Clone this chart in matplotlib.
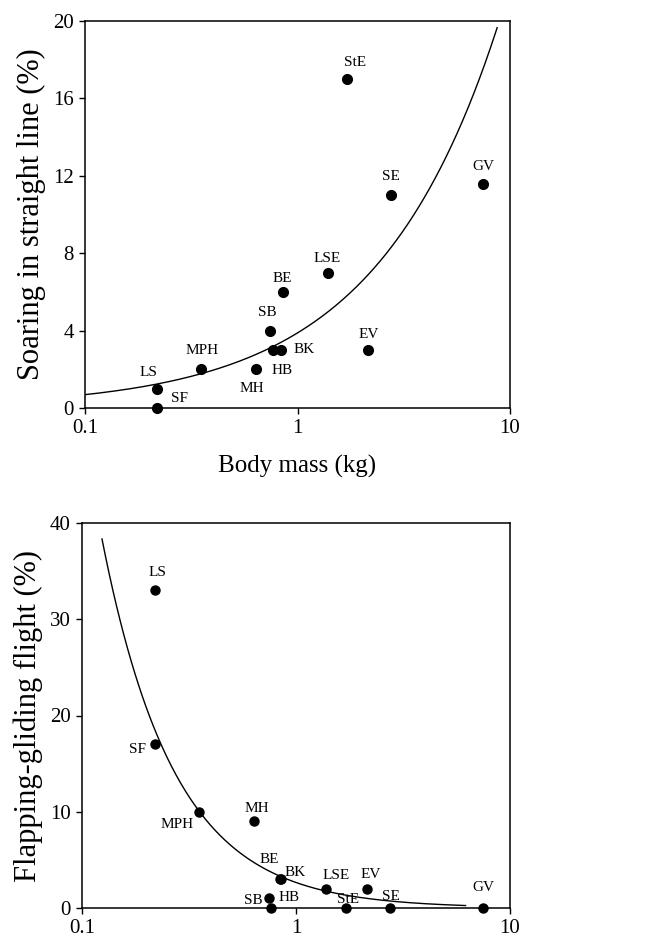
import numpy as np
import matplotlib
matplotlib.use("Agg")
import matplotlib.pyplot as plt

# ---- data ----
species = ["LS", "SF", "MPH", "MH", "SB", "HB", "BK", "BE", "LSE", "StE", "EV", "SE", "GV"]
mass_kg = [0.219, 0.219, 0.351, 0.635, 0.745, 0.766, 0.838, 0.851, 1.387, 1.705, 2.14, 2.75, 7.5]
soaring_pct = [1.0, 0.0, 2.0, 2.0, 4.0, 3.0, 3.0, 6.0, 7.0, 17.0, 3.0, 11.0, 11.6]
flapping_pct = [33.0, 17.0, 10.0, 9.0, 1.0, 0.0, 3.0, 3.0, 2.0, 0.0, 2.0, 0.0, 0.0]

# fitted power-law curves y = a * m^b
soar_fit_a, soar_fit_b = 3.88, 0.75
soar_fit_range = (0.1, 8.7)
flap_fit_a, flap_fit_b = 2.65, -1.28
flap_fit_range = (0.124, 6.2)

top_yticks = [0, 4, 8, 12, 16, 20]
bot_yticks = [0, 10, 20, 30, 40]
xticks = [0.1, 1, 10]
xticklabels = ["0.1", "1", "10"]

# label offsets (pixels) relative to each point
top_offsets = {"LS": (-9, 16), "SF": (22, 9), "MPH": (1, 19), "MH": (-4, -19), "SB": (-3, 18),
               "HB": (9, -21), "BK": (23, 0), "BE": (0, 13), "LSE": (-1, 14), "StE": (8, 17),
               "EV": (1, 15), "SE": (0, 19), "GV": (0, 17)}
bot_offsets = {"LS": (3, 18), "SF": (-17, -5), "MPH": (-22, -13), "MH": (3, 13), "SB": (-15, -2),
               "HB": (18, 11), "BK": (16, 7), "BE": (-12, 20), "LSE": (10, 13), "StE": (2, 9),
               "EV": (4, 14), "SE": (1, 12), "GV": (0, 21)}

W, H = 662, 946
fig = plt.figure(figsize=(W / 100, H / 100), dpi=100)

serif = ["Liberation Serif", "DejaVu Serif"]

def make_axes(l, r, t, b):
    return fig.add_axes([l / W, 1 - b / H, (r - l) / W, (b - t) / H])

ax1 = make_axes(85, 510, 21, 408)
ax2 = make_axes(82, 510, 523, 908)

def style(ax, yticks, ylim):
    ax.set_xscale("log")
    ax.set_xlim(0.1, 10)
    ax.set_ylim(*ylim)
    ax.set_xticks(xticks)
    ax.set_xticklabels(xticklabels)
    ax.xaxis.set_minor_locator(matplotlib.ticker.NullLocator())
    ax.set_yticks(yticks)
    ax.tick_params(direction="out", length=4, width=1, labelsize=15, pad=4)
    for lab in ax.get_xticklabels() + ax.get_yticklabels():
        lab.set_family(serif)
    for s in ax.spines.values():
        s.set_linewidth(1.1)

def draw(ax, yvals, offsets, a, b, rng, ms):
    m = np.logspace(np.log10(rng[0]), np.log10(rng[1]), 300)
    ax.plot(m, a * m ** b, color="black", lw=1.0)
    ax.plot(mass_kg, yvals, "o", color="black", ms=ms, clip_on=False, zorder=3)
    for sp, x, y in zip(species, mass_kg, yvals):
        dx, dy = offsets[sp]
        ax.annotate(sp, (x, y), xytext=(dx * 0.72, dy * 0.72), textcoords="offset points",
                    ha="center", va="center", fontsize=11, family=serif)

style(ax1, top_yticks, (0, 20))
draw(ax1, soaring_pct, top_offsets, soar_fit_a, soar_fit_b, soar_fit_range, 7)
ax1.set_ylabel("Soaring in straight line (%)", family=serif, fontsize=22, labelpad=5)
ax1.set_xlabel("Body mass (kg)", family=serif, fontsize=18, labelpad=12)

style(ax2, bot_yticks, (0, 40))
draw(ax2, flapping_pct, bot_offsets, flap_fit_a, flap_fit_b, flap_fit_range, 6.5)
ax2.set_ylabel("Flapping-gliding flight (%)", family=serif, fontsize=22, labelpad=5)

fig.savefig("out.png", dpi=100, facecolor="white")
